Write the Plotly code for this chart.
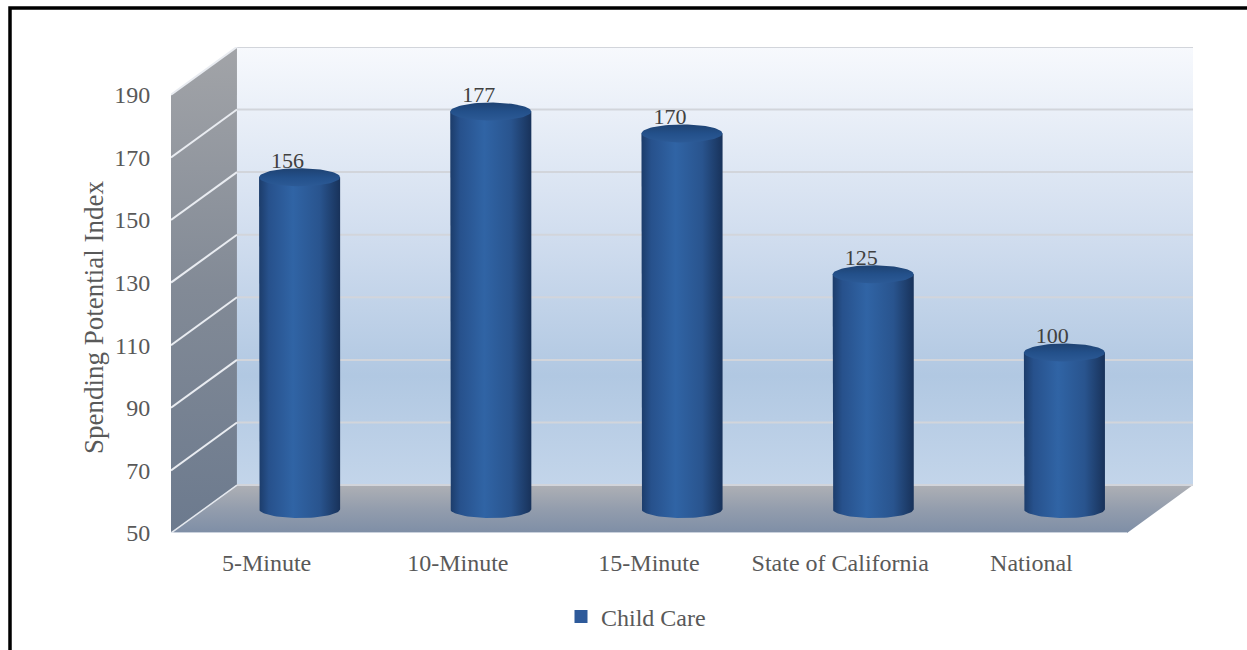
import numpy as np
import plotly.graph_objects as go

# ---------------- data ----------------
categories = ["5-Minute", "10-Minute", "15-Minute", "State of California", "National"]
values = [156, 177, 170, 125, 100]
series_name = "Child Care"
y_tick_values = [50, 70, 90, 110, 130, 150, 170, 190]
y_axis_title = "Spending Potential Index"

# ---------------- style constants ----------------
W, H = 1247, 650
Y_MIN, Y_MAX = 50, 190
DEPTH_X = 0.345      # perspective shift of back wall (category units)
DEPTH_Y = 15.3       # perspective shift of back wall (value units)
CYL_RX = 0.212       # cylinder half-width (category units)
CYL_RY = 2.87        # ellipse half-height (value units)
FONT = "Liberation Serif, Times New Roman, serif"
TXT = "#595959"

X_LO, X_HI = -0.5, len(categories) - 0.5
x_range = [X_LO, X_HI + DEPTH_X]
y_range = [Y_MIN, Y_MAX + DEPTH_Y]

px_bottom = 533
px_per_unit = 3.13
px_top = px_bottom - (y_range[1] - y_range[0]) * px_per_unit

fig = go.Figure()


def poly(xs, ys, grad, orient="vertical"):
    fig.add_trace(go.Scatter(
        x=list(xs) + [xs[0]], y=list(ys) + [ys[0]], mode="lines",
        line=dict(width=0), fill="toself",
        fillgradient=dict(type=orient, colorscale=grad),
        hoverinfo="skip", showlegend=False))


# floor
poly([X_LO, X_HI, X_HI + DEPTH_X, X_LO + DEPTH_X],
     [Y_MIN, Y_MIN, Y_MIN + DEPTH_Y, Y_MIN + DEPTH_Y],
     [[0, "#7e8ea6"], [0.5, "#939dad"], [1, "#aeb0b5"]])
# side wall
poly([X_LO, X_LO + DEPTH_X, X_LO + DEPTH_X, X_LO],
     [Y_MIN, Y_MIN + DEPTH_Y, Y_MAX + DEPTH_Y, Y_MAX],
     [[0, "#6c7a8e"], [0.5, "#828a96"], [1, "#a2a4a8"]])
# back wall
poly([X_LO + DEPTH_X, X_HI + DEPTH_X, X_HI + DEPTH_X, X_LO + DEPTH_X],
     [Y_MIN + DEPTH_Y, Y_MIN + DEPTH_Y, Y_MAX + DEPTH_Y, Y_MAX + DEPTH_Y],
     [[0, "#c3d5ea"], [0.25, "#b1c8e2"], [0.55, "#cfdcee"], [1, "#f7f9fd"]])

# back wall gridlines
gx, gy = [], []
for v in y_tick_values:
    gx += [X_LO + DEPTH_X, X_HI + DEPTH_X, None]
    gy += [v + DEPTH_Y, v + DEPTH_Y, None]
fig.add_trace(go.Scatter(x=gx, y=gy, mode="lines",
                         line=dict(color="#d2d5db", width=2),
                         hoverinfo="skip", showlegend=False))
# side wall gridlines
sx, sy = [], []
for v in y_tick_values[1:]:
    sx += [X_LO, X_LO + DEPTH_X, None]
    sy += [v, v + DEPTH_Y, None]
fig.add_trace(go.Scatter(x=sx, y=sy, mode="lines",
                         line=dict(color="#e9ecf1", width=2),
                         hoverinfo="skip", showlegend=False))
# floor highlight edges
fig.add_trace(go.Scatter(x=[X_LO + DEPTH_X, X_LO, X_HI], y=[Y_MIN + DEPTH_Y, Y_MIN, Y_MIN],
                         mode="lines", line=dict(color="#e4e8ee", width=1.5),
                         hoverinfo="skip", showlegend=False))

# cylinders
body_scale = [[0, "#1c3c6a"], [0.12, "#27518c"], [0.42, "#3064a5"],
              [0.75, "#29548e"], [1, "#18325a"]]
top_scale = [[0, "#2c5a96"], [0.5, "#23508a"], [1, "#1e4272"]]
t_bot = np.linspace(np.pi, 2 * np.pi, 40)
t_all = np.linspace(0, 2 * np.pi, 80)
for i, v in enumerate(values):
    xc = i + DEPTH_X / 2
    base = Y_MIN + DEPTH_Y / 2
    top = v + DEPTH_Y / 2
    bx = [xc - CYL_RX] + list(xc + CYL_RX * np.cos(t_bot)) + [xc + CYL_RX]
    by = [top] + list(base + CYL_RY * np.sin(t_bot)) + [top]
    poly(bx, by, body_scale, orient="horizontal")
    tx = list(xc + CYL_RX * np.cos(t_all))
    ty = list(top + CYL_RY * np.sin(t_all))
    poly(tx, ty, top_scale, orient="vertical")

# data labels
fig.add_trace(go.Scatter(
    x=[i + DEPTH_X / 2 - 0.063 for i in range(len(values))],
    y=[v + DEPTH_Y / 2 + 4.8 for v in values],
    mode="text", text=[str(v) for v in values], textposition="middle center",
    textfont=dict(family=FONT, size=22, color="#404040"),
    cliponaxis=False, hoverinfo="skip", showlegend=False))

# legend entry
fig.add_trace(go.Scatter(x=[None], y=[None], mode="markers", name=series_name,
                         marker=dict(symbol="square", size=13, color="#2e5a9a")))

fig.update_layout(
    width=W, height=H,
    margin=dict(l=0, r=0, t=0, b=0, autoexpand=False),
    paper_bgcolor="white", plot_bgcolor="rgba(0,0,0,0)",
    font=dict(family=FONT, size=24, color=TXT),
    xaxis=dict(range=x_range, domain=[171 / W, 1193 / W], automargin=False,
               tickvals=list(range(len(categories))), ticktext=categories,
               showgrid=False, zeroline=False, showline=False,
               ticks="outside", ticklen=8, tickcolor="rgba(0,0,0,0)",
               tickfont=dict(family=FONT, size=24, color=TXT), fixedrange=True),
    yaxis=dict(range=y_range, domain=[1 - px_bottom / H, 1 - px_top / H], automargin=False,
               tickvals=y_tick_values, showgrid=False, zeroline=False, showline=False,
               ticks="outside", ticklen=15, tickcolor="rgba(0,0,0,0)",
               tickfont=dict(family=FONT, size=24, color=TXT), fixedrange=True),
    showlegend=True,
    legend=dict(orientation="h", x=636 / W, xanchor="center", y=1 - 617 / H, yanchor="middle",
                font=dict(family=FONT, size=24, color=TXT), bgcolor="rgba(0,0,0,0)",
                itemwidth=30),
    annotations=[dict(text=y_axis_title, textangle=-90, x=94 / W, y=1 - 318 / H,
                      xref="paper", yref="paper", xanchor="center", yanchor="middle",
                      showarrow=False,
                      font=dict(family=FONT, size=27, color=TXT))],
    shapes=[dict(type="rect", xref="paper", yref="paper",
                 x0=10 / W, y0=-0.2, x1=1.2, y1=1 - 8 / H,
                 line=dict(color="black", width=3.5), fillcolor="rgba(0,0,0,0)",
                 layer="above")],
)

fig.write_html("out.html")
